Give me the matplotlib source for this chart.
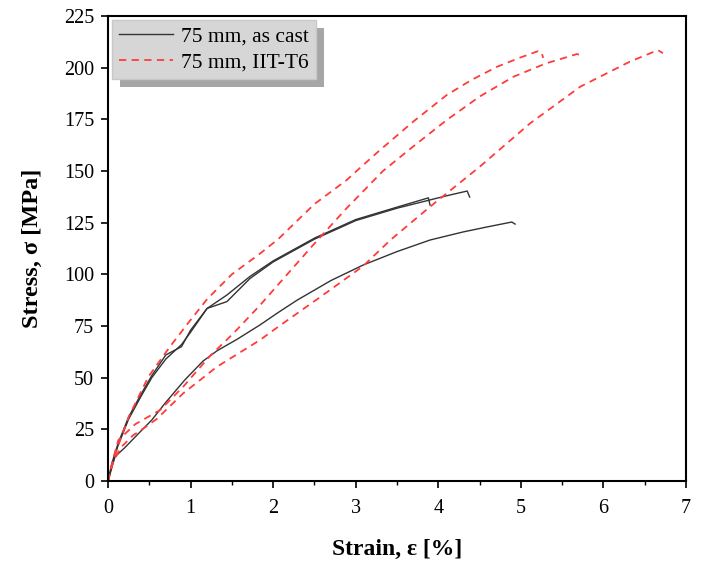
import matplotlib
matplotlib.use('Agg')
import matplotlib.pyplot as plt
from matplotlib.patches import Rectangle
from matplotlib.transforms import IdentityTransform
from matplotlib.ticker import MultipleLocator

plt.rcParams['font.family'] = ['Liberation Serif', 'DejaVu Serif']

# as cast samples (strain %, stress MPa)
cast1_x = [0, 0.05, 0.12, 0.25, 0.4, 0.53, 0.7, 0.89, 1.0, 1.2, 1.44, 1.72, 2.0, 2.5, 3.0, 3.5, 3.9, 4.1, 4.35, 4.38]
cast1_y = [0, 8, 17, 30, 41, 50, 59, 66, 72, 83.5, 86.8, 98, 106, 117, 126, 132, 136, 138, 140.3, 137.4]
cast2_x = [0, 0.05, 0.12, 0.25, 0.4, 0.53, 0.7, 0.89, 1.0, 1.2, 1.44, 1.72, 2.0, 2.5, 3.0, 3.5, 3.88, 3.9]
cast2_y = [0, 9, 18, 31, 42, 51, 61, 65, 73, 83.5, 90, 99, 106.5, 117.5, 126.5, 132.5, 137, 133.5]
cast3_x = [0, 0.05, 0.085, 0.2, 0.37, 0.53, 0.69, 0.93, 1.15, 1.32, 1.56, 1.84, 2.06, 2.29, 2.7, 3.09, 3.5, 3.9, 4.3, 4.6, 4.89, 4.93]
cast3_y = [0, 7, 11.8, 16, 23, 29.5, 37.6, 48.9, 58, 63, 68.5, 75.5, 81.5, 87.5, 97, 104.5, 111, 116.6, 120.5, 123, 125.3, 124.3]

# HT-T6 samples
t6a_x = [0, 0.05, 0.12, 0.25, 0.49, 0.75, 0.97, 1.2, 1.5, 1.84, 2.06, 2.5, 2.89, 3.01, 3.29, 3.7, 4.1, 4.4, 4.71, 5.0, 5.21, 5.25, 5.27]
t6a_y = [0, 8, 17, 31, 50.5, 65, 76.4, 88, 100, 110, 117, 134, 145.6, 150, 160, 174, 186.7, 194, 200.4, 205, 208, 207.5, 204.7]
t6b_x = [0, 0.05, 0.125, 0.33, 0.63, 0.91, 1.235, 1.52, 1.84, 2.06, 2.48, 2.89, 3.33, 3.7, 4.1, 4.5, 4.91, 5.3, 5.68, 5.72]
t6b_y = [0, 9, 19.8, 27.5, 34.3, 45.6, 60.5, 71.5, 85, 95, 114, 132, 150, 162, 174.6, 186, 195.6, 202, 206.6, 206]
t6c_x = [0, 0.05, 0.15, 0.3, 0.45, 0.59, 0.91, 1.32, 1.84, 2.06, 2.57, 3.09, 3.42, 3.9, 4.5, 5.11, 5.72, 6.32, 6.66, 6.72]
t6c_y = [0, 8, 16, 22, 26, 30, 42.4, 55.3, 68.2, 74.6, 89, 104, 116.6, 132.7, 152, 173, 190.8, 202.9, 208.5, 207]

fig = plt.figure(figsize=(7.07, 5.67), dpi=100)
ax = fig.add_axes([0.1528, 0.1517, 0.8175, 0.8201])

black = '#333333'
red = '#ff3b3b'
dash = (0, (4, 3))
ax.plot(cast1_x, cast1_y, color=black, lw=1.0, label='75 mm, as cast')
ax.plot(cast2_x, cast2_y, color=black, lw=1.0)
ax.plot(cast3_x, cast3_y, color=black, lw=1.0)
ax.plot(t6a_x, t6a_y, color=red, lw=1.3, ls=dash, label='75 mm, IIT-T6')
ax.plot(t6b_x, t6b_y, color=red, lw=1.3, ls=dash)
ax.plot(t6c_x, t6c_y, color=red, lw=1.3, ls=dash)

ax.set_xlim(0, 7)
ax.set_ylim(0, 225)
ax.xaxis.set_major_locator(MultipleLocator(1))
ax.xaxis.set_minor_locator(MultipleLocator(0.5))
ax.yaxis.set_major_locator(MultipleLocator(25))
ax.tick_params(which='major', direction='out', length=5, width=1.2, labelsize=14.5, pad=5)
ax.tick_params(axis='x', which='major', pad=8)
ax.tick_params(which='minor', direction='out', length=3, width=1.0)
for s in ax.spines.values():
    s.set_linewidth(1.5)

ax.set_xlabel('Strain, ε [%]', fontsize=17, fontweight='bold', labelpad=15)
ax.set_ylabel('Stress, σ [MPa]', fontsize=17.5, fontweight='bold', labelpad=15)

leg = ax.legend(loc='upper left', fontsize=15.5, frameon=True, fancybox=False,
                facecolor='#d6d6d6', edgecolor='#c8c8c8', framealpha=1,
                borderaxespad=0.2, handlelength=2.5, handletextpad=0.4,
                borderpad=0.3, labelspacing=0.25)
leg.set_zorder(5)

# drop shadow behind legend box
fig.canvas.draw()
bb = leg.get_frame().get_window_extent()
shadow = Rectangle((bb.x0 + 8, bb.y0 - 8), bb.width, bb.height, transform=IdentityTransform(),
                   facecolor='#a6a6a6', edgecolor='none', zorder=4.9, clip_on=False)
ax.add_patch(shadow)

fig.savefig('out.png', dpi=100)
